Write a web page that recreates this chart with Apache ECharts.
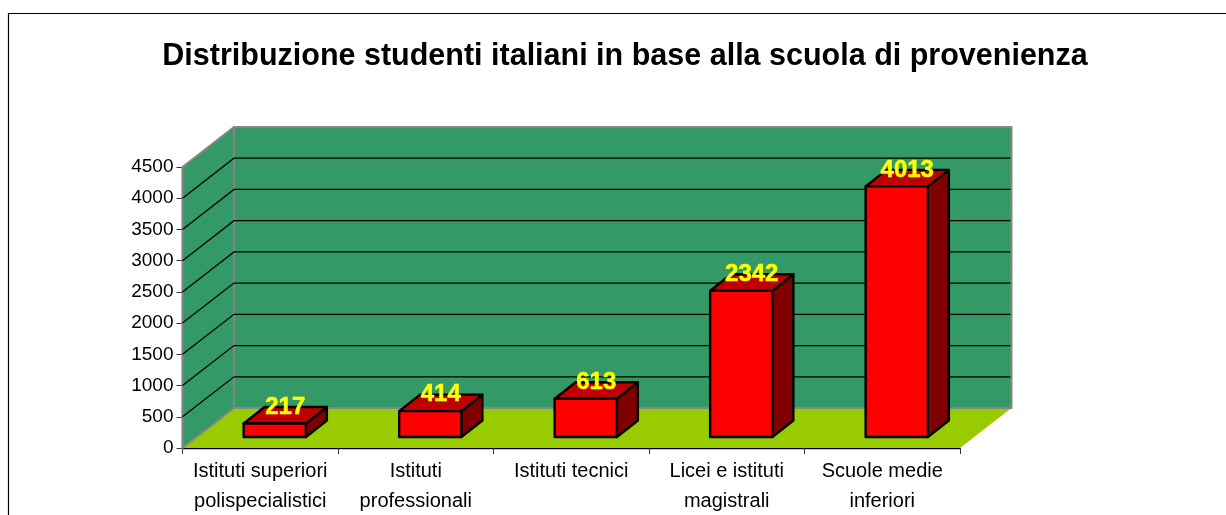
<!DOCTYPE html>
<html>
<head>
<meta charset="utf-8">
<style>
html, body { margin: 0; padding: 0; background: #fff; }
#main { width: 1226px; height: 515px; }
</style>
<script src="https://cdn.jsdelivr.net/npm/echarts@6/dist/echarts.min.js"></script>
</head>
<body>
<div id="main"></div>
<script>
var titleText = 'Distribuzione studenti italiani in base alla scuola di provenienza';
var categories = ['Istituti superiori\npolispecialistici', 'Istituti\nprofessionali', 'Istituti tecnici', 'Licei e istituti\nmagistrali', 'Scuole medie\ninferiori'];
var studenti = [217, 414, 613, 2342, 4013];
var gridValues = [500, 1000, 1500, 2000, 2500, 3000, 3500, 4000];

// depth of the fake 3d box, in px
var wallDx = 51.5, wallDy = -40;
var barFrontDx = 14.5, barFrontDy = -11, barDx = 21, barDy = -16.5;
var barRatio = 0.4;

function poly(points, fill, stroke, lineWidth) {
    return {
        type: 'polygon',
        shape: { points: points },
        style: { fill: fill, stroke: stroke, lineWidth: lineWidth, lineJoin: 'round' }
    };
}

function renderWalls(params, api) {
    var lt = api.coord([0, 4500]);
    var lb = api.coord([0, 0]);
    var rb = api.coord([categories.length - 1, 0]);
    var half = api.size([1, 0])[0] / 2;
    var x0 = lb[0] - half, x1 = rb[0] + half, top = lt[1], bot = lb[1];
    return {
        type: 'group',
        children: [
            poly([[x0, bot], [x0 + wallDx, bot + wallDy], [x1 + wallDx, bot + wallDy], [x1, bot]], '#99cc00', null, 0),
            poly([[x0 + wallDx, top + wallDy], [x1 + wallDx, top + wallDy], [x1 + wallDx, bot + wallDy], [x0 + wallDx, bot + wallDy]], '#339966', '#868686', 2),
            poly([[x0, top], [x0 + wallDx, top + wallDy], [x0 + wallDx, bot + wallDy], [x0, bot]], '#339966', '#868686', 2)
        ]
    };
}

function renderGrid(params, api) {
    var p = api.coord([0, api.value(0)]);
    var rb = api.coord([categories.length - 1, 0]);
    var half = api.size([1, 0])[0] / 2;
    var x0 = p[0] - half, x1 = rb[0] + half, y = p[1];
    return {
        type: 'polyline',
        shape: { points: [[x0, y], [x0 + wallDx, y + wallDy], [x1 + wallDx - 1, y + wallDy]] },
        style: { fill: null, stroke: '#000', lineWidth: 1.3 }
    };
}

function renderBar(params, api) {
    var i = api.value(0);
    var top = api.coord([i, api.value(1)]);
    var bot = api.coord([i, 0]);
    var w = api.size([1, 0])[0] * barRatio;
    var l = top[0] + barFrontDx - w / 2, r = l + w;
    var t = top[1] + barFrontDy, b = bot[1] + barFrontDy;
    return {
        type: 'group',
        children: [
            poly([[r, t], [r + barDx, t + barDy], [r + barDx, b + barDy], [r, b]], '#800000', '#000', 2.4),
            poly([[l, t], [l + barDx, t + barDy], [r + barDx, t + barDy], [r, t]], '#c00000', '#000', 2.4),
            poly([[l, t], [r, t], [r, b], [l, b]], '#ff0000', '#000', 2.4),
            {
                type: 'text',
                style: {
                    x: (l + r) / 2 + barDx / 2,
                    y: t + barDy,
                    text: String(api.value(1)),
                    fill: '#ffff00',
                    stroke: '#ffff00',
                    lineWidth: 0.5,
                    font: 'bold 24px "Liberation Sans", Arial, sans-serif',
                    align: 'center',
                    verticalAlign: 'middle'
                }
            }
        ]
    };
}

var chart = echarts.init(document.getElementById('main'), null, { renderer: 'canvas' });
chart.setOption({
    animation: false,
    backgroundColor: '#fff',
    title: {
        text: titleText,
        left: 620,
        top: 36,
        textAlign: 'center',
        textStyle: { fontFamily: '"Liberation Sans", Arial, sans-serif', fontWeight: 'bold', fontSize: 30.5, color: '#000' }
    },
    graphic: [{
        type: 'polyline',
        silent: true,
        shape: { points: [[8.5, 515], [8.5, 13.5], [1226, 13.5]] },
        style: { fill: null, stroke: '#000', lineWidth: 1.2 }
    }],
    grid: { left: 182.5, top: 167, width: 777.5, height: 281, outerBoundsMode: 'none' },
    xAxis: {
        type: 'category',
        data: categories,
        axisLine: { lineStyle: { color: '#000', width: 1.3 } },
        axisTick: { show: true, alignWithLabel: false, length: 6, lineStyle: { color: '#333' } },
        axisLabel: { interval: 0, margin: 8, lineHeight: 30, fontFamily: '"Liberation Sans", Arial, sans-serif', fontSize: 20, color: '#000' },
        splitLine: { show: false }
    },
    yAxis: {
        type: 'value',
        min: 0,
        max: 4500,
        interval: 500,
        axisLine: { show: true, lineStyle: { color: '#333', width: 1.3 } },
        axisTick: { show: true, length: 6, lineStyle: { color: '#333' } },
        axisLabel: {
            margin: 9,
            formatter: function (v) { return String(v); },
            fontFamily: '"Liberation Sans", Arial, sans-serif',
            fontSize: 19,
            color: '#000'
        },
        splitLine: { show: false }
    },
    series: [
        { type: 'custom', renderItem: renderWalls, data: [[0]], z: 1, silent: true },
        { type: 'custom', renderItem: renderGrid, data: gridValues.map(function (v) { return [v]; }), encode: { y: 0 }, z: 2, silent: true },
        {
            type: 'custom',
            renderItem: renderBar,
            data: studenti.map(function (v, i) { return [i, v]; }),
            encode: { x: 0, y: 1 },
            z: 3,
            silent: true
        }
    ]
});
</script>
</body>
</html>
